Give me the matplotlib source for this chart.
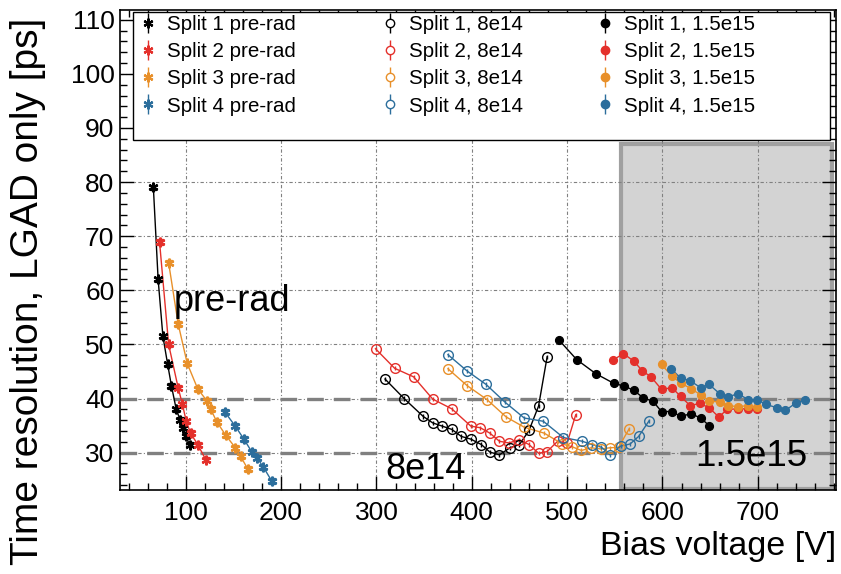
import matplotlib
matplotlib.use("Agg")
import matplotlib.pyplot as plt
from matplotlib.patches import Rectangle
from matplotlib.ticker import MultipleLocator
from matplotlib.lines import Line2D

plt.rcParams['font.family'] = ['Liberation Sans', 'DejaVu Sans']

# ---------------- data ----------------
colors = ['#000000', '#e4302b', '#e8902a', '#2c6e9c']
splits = ['Split 1', 'Split 2', 'Split 3', 'Split 4']

pre_v1 = [66, 71, 76, 81, 85, 90, 94, 97, 100, 104]
pre_t1 = [79.0, 62.0, 51.5, 46.3, 42.3, 38.0, 36.1, 34.6, 33.0, 31.5]
pre_v2 = [72.5, 82, 92, 96.5, 100.5, 105, 112.5, 121]
pre_t2 = [68.9, 50.0, 42.0, 38.9, 35.8, 33.6, 31.5, 28.7]
pre_v3 = [82, 92, 101.5, 112.5, 122, 126, 132.5, 142, 152, 157.5, 165]
pre_t3 = [65.1, 53.8, 46.5, 41.8, 39.6, 38.1, 35.7, 33.2, 30.9, 29.3, 27.0]
pre_v4 = [141, 151.5, 161, 169, 174.5, 181.5, 190]
pre_t4 = [37.5, 35.0, 32.5, 30.2, 29.1, 27.3, 24.8]

e14_v1 = [309, 329, 349, 359, 369, 379, 389, 399, 410, 419, 429, 440, 450, 460, 470, 479]
e14_t1 = [43.6, 40.0, 36.7, 35.5, 34.9, 34.3, 33.0, 32.5, 31.5, 30.1, 29.6, 30.9, 31.5, 34.1, 38.6, 47.7]
e14_v2 = [299, 319, 339, 359, 379, 399, 409, 419, 429, 439, 450, 460, 470, 479, 490, 500, 509]
e14_t2 = [49.2, 45.6, 44.0, 39.9, 38.1, 34.9, 34.6, 33.6, 32.1, 31.8, 32.4, 31.5, 29.9, 30.2, 32.1, 31.8, 37.0]
e14_v3 = [375, 395, 416, 436, 455, 476, 495, 505, 515, 525, 535, 545, 554, 565]
e14_t3 = [45.5, 42.4, 39.8, 36.6, 34.7, 33.6, 31.6, 31.1, 30.4, 30.9, 30.7, 30.9, 31.0, 34.4]
e14_v4 = [375, 395, 415, 435, 455, 475, 496, 516, 526, 536, 545, 556, 566, 575, 586]
e14_t4 = [48.1, 45.1, 42.6, 39.3, 36.4, 35.8, 32.8, 32.1, 31.5, 31.0, 29.6, 31.2, 31.6, 33.0, 35.9]

e15_v1 = [491, 510, 530, 549, 560, 570, 580, 590, 599, 610, 619, 630, 640, 649]
e15_t1 = [50.9, 47.2, 44.6, 42.8, 42.3, 41.5, 40.1, 39.5, 37.6, 37.6, 36.7, 37.2, 36.4, 35.0]
e15_v2 = [548, 559, 570, 579, 588, 599, 610, 619, 629, 639, 649, 659, 668, 679, 690, 699]
e15_t2 = [47.1, 48.3, 46.9, 45.1, 44.0, 41.7, 42.0, 40.4, 38.7, 39.1, 38.3, 36.6, 38.0, 38.1, 38.1, 38.0]
e15_v3 = [599, 610, 619, 630, 640, 649, 660, 669, 679, 690, 699]
e15_t3 = [46.3, 44.1, 42.9, 41.8, 40.7, 39.6, 39.3, 38.7, 38.5, 38.7, 38.4]
e15_v4 = [609, 619, 629, 640, 649, 660, 669, 679, 690, 699, 709, 720, 729, 740, 750]
e15_t4 = [45.5, 43.8, 43.3, 42.0, 42.6, 40.9, 40.3, 40.9, 39.8, 39.8, 38.9, 38.3, 37.8, 39.2, 39.7]

pre_err = 0.5
irr_err = 0.4

ref_lines = [30, 40]
shade_v = [556, 778]
shade_t = [23.3, 87]

# ---------------- figure ----------------
fig = plt.figure(figsize=(8.41, 5.74), dpi=100)
ax = fig.add_axes([120/841, 1-490/574, 716/841, 480/574])
ax.set_xlim(31, 782)
ax.set_ylim(23.1, 111.8)

ax.set_axisbelow(True)
ax.grid(True, which='major', color='#808080', lw=0.8, linestyle=(0, (3, 2, 1, 2)))

ax.add_patch(Rectangle((shade_v[0], shade_t[0]), shade_v[1]-shade_v[0], shade_t[1]-shade_t[0],
                       facecolor='#d3d3d3', edgecolor='#a0a0a0', lw=3.0, zorder=0.3))
for y in ref_lines:
    ax.axhline(y, color='#808080', lw=2.4, dashes=(5, 3), zorder=1)

pre = [(pre_v1, pre_t1), (pre_v2, pre_t2), (pre_v3, pre_t3), (pre_v4, pre_t4)]
e14 = [(e14_v1, e14_t1), (e14_v2, e14_t2), (e14_v3, e14_t3), (e14_v4, e14_t4)]
e15 = [(e15_v1, e15_t1), (e15_v2, e15_t2), (e15_v3, e15_t3), (e15_v4, e15_t4)]

h_pre, h_e14, h_e15 = [], [], []
for i, (v, t) in enumerate(pre):
    c = colors[i]
    ax.plot(v, t, color=c, lw=1.0, zorder=2)
    ax.errorbar(v, t, yerr=pre_err, fmt='none', ecolor=c, elinewidth=1, capsize=2.5, zorder=2)
    ax.plot(v, t, ls='none', marker=(6, 2, 0), ms=7, mew=1.6, color=c, zorder=3)
    h_pre.append((Line2D([], [], ls='none', marker=(6, 2, 0), ms=7, mew=1.6, color=c),
                  Line2D([], [], ls='none', marker='|', ms=14, mew=1, color=c)))
for i, (v, t) in enumerate(e14):
    c = colors[i]
    ax.plot(v, t, color=c, lw=1.0, zorder=2)
    ax.errorbar(v, t, yerr=irr_err, fmt='none', ecolor=c, elinewidth=1, capsize=0, zorder=2)
    ax.plot(v, t, ls='none', marker='o', ms=7, mfc='none', mec=c, mew=1.0, zorder=3)
    h_e14.append((Line2D([], [], ls='none', marker='|', ms=14, mew=1, color=c),
                  Line2D([], [], ls='none', marker='o', ms=6, mfc='white', mec=c, mew=1.0)))
for i, (v, t) in enumerate(e15):
    c = colors[i]
    ax.plot(v, t, color=c, lw=1.0, zorder=2)
    ax.errorbar(v, t, yerr=irr_err, fmt='none', ecolor=c, elinewidth=1, capsize=0, zorder=2)
    ax.plot(v, t, ls='none', marker='o', ms=5.6, color=c, zorder=3)
    h_e15.append((Line2D([], [], ls='none', marker='|', ms=14, mew=1, color=c),
                  Line2D([], [], ls='none', marker='o', ms=6, color=c)))

labels_pre = [f'{s} pre-rad' for s in splits]
labels_e14 = [f'{s}, 8e14' for s in splits]
labels_e15 = [f'{s}, 1.5e15' for s in splits]

# legend frame
ax.add_patch(Rectangle((13/716, 350/480), 697/716, 128/480, transform=ax.transAxes,
                       facecolor='white', edgecolor='black', lw=1.0, zorder=4))
legs = []
for hs, ls, xpx in [(h_pre, labels_pre, 138), (h_e14, labels_e14, 380), (h_e15, labels_e15, 595)]:
    lg = ax.legend(hs, ls, loc='upper left', bbox_to_anchor=((xpx-120)/716, (490-15)/480),
                   frameon=False, fontsize=14.8, borderpad=0, borderaxespad=0,
                   handlelength=1.0, handletextpad=0.4, labelspacing=0.40)
    lg.set_zorder(5)
    legs.append(lg)
for lg in legs[:-1]:
    ax.add_artist(lg)

# big labels
ax.text(87, 56.2, 'pre-rad', fontsize=26, zorder=6)
ax.text(309, 25.1, '8e14', fontsize=26, zorder=6)
ax.text(634, 27.5, '1.5e15', fontsize=26.5, zorder=6)

ax.xaxis.set_major_locator(MultipleLocator(100))
ax.xaxis.set_minor_locator(MultipleLocator(20))
ax.yaxis.set_major_locator(MultipleLocator(10))
ax.yaxis.set_minor_locator(MultipleLocator(2))
ax.tick_params(which='both', direction='in', top=True, right=True, labelsize=19, width=1)
ax.tick_params(which='major', length=10)
ax.tick_params(which='minor', length=5)
ax.tick_params(axis='x', pad=8)
ax.tick_params(axis='y', pad=4)
for s in ax.spines.values():
    s.set_linewidth(1.2)
    s.set_zorder(7)

ax.set_xlabel('Bias voltage [V]', fontsize=24.5, loc='right', labelpad=4)
ax.set_ylabel('Time resolution, LGAD only [ps]', fontsize=28, loc='top')
ax.yaxis.set_label_coords(-0.104, (490-18)/480)

fig.savefig('out.png', dpi=100)
